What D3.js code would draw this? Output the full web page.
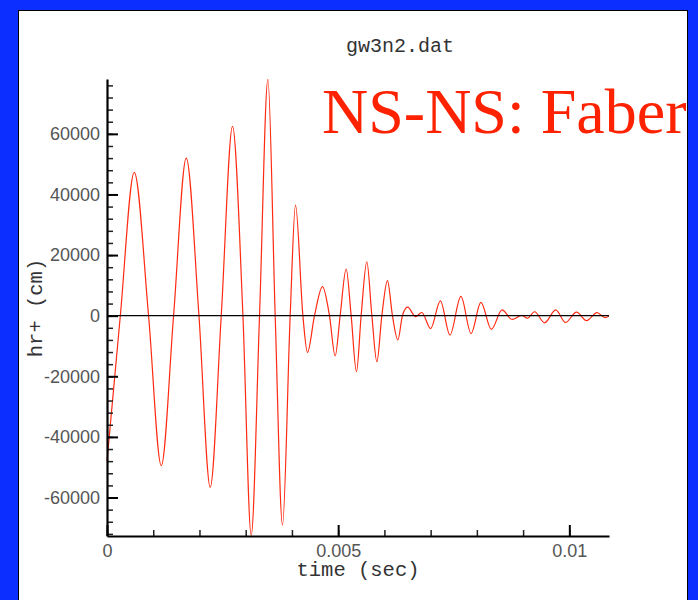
<!DOCTYPE html>
<html>
<head>
<meta charset="utf-8">
<script src="https://cdn.jsdelivr.net/npm/d3@7"></script>
<style>
  html, body { margin: 0; padding: 0; background: #0c2eff; }
  svg { display: block; }
</style>
</head>
<body>
<div id="chart"></div>
<script>
// waveform: extrema and zero crossings
const timeSec = [0, 0.000288, 0.000590, 0.000899, 0.001174, 0.001440, 0.001714, 0.001989,
  0.002233, 0.002471, 0.002715, 0.002940, 0.003119, 0.003299, 0.003480, 0.003638,
  0.003796, 0.003962, 0.004077, 0.004237, 0.004336, 0.004488, 0.004661, 0.004812,
  0.004935, 0.005043, 0.005173, 0.005281, 0.005396, 0.005497, 0.005620, 0.005729,
  0.005837, 0.005945, 0.006066, 0.006174, 0.006291, 0.006390, 0.006502, 0.006675,
  0.006809, 0.007000, 0.007211, 0.007417, 0.007655, 0.007875, 0.008087, 0.008314,
  0.008545, 0.008761, 0.008971, 0.009092, 0.009248, 0.009464, 0.009706, 0.009918,
  0.010156, 0.010372, 0.010599, 0.010772, 0.010858];
const hrPlus = [-48000, 0, 47300, 0, -49500, 0, 52000, 0,
  -56600, 0, 62500, 0, -72500, 0, 78000, 0,
  -69100, 0, 36500, 0, -12100, 0, 9600, 0,
  -13300, 0, 15400, 0, -18500, 0, 17800, 0,
  -15200, 0, 11600, 0, -8000, 0, 2800, -300,
  1050, -4250, 4900, -6400, 6350, -5900, 4400, -4500,
  1900, -1250, 100, -850, 1300, -2350, 1900, -2250,
  1200, -1650, 1000, -650, -100];

const xMajorTicks = [0, 0.005, 0.01];
const xTickLabels = ["0", "0.005", "0.01"];
const yMajorTicks = [-60000, -40000, -20000, 0, 20000, 40000, 60000];

const W = 698, H = 600;
const plotLeft = 107, plotRight = 609, plotTop = 79, plotBottom = 536;

const svg = d3.select('#chart').append('svg')
    .attr('width', W)
    .attr('height', H);

// white panel
svg.append('rect')
    .attr('x', 18.5).attr('y', 10.5)
    .attr('width', 669).attr('height', 600)
    .attr('fill', '#fff')
    .attr('stroke', '#000')
    .attr('stroke-width', 1);

const x = d3.scaleLinear().domain([0, 0.010858]).range([plotLeft, plotRight]);
const y = d3.scaleLinear().domain([-72700, 78100]).range([plotBottom, plotTop]);

const line = d3.line()
    .x((d, i) => x(timeSec[i]))
    .y(d => y(d))
    .curve(d3.curveMonotoneX);

svg.append('path')
    .datum(hrPlus)
    .attr('d', line)
    .attr('fill', 'none')
    .attr('stroke', '#ff2a10')
    .attr('stroke-width', 1.2);

// zero line
svg.append('line')
    .attr('x1', x(0)).attr('x2', plotRight)
    .attr('y1', y(0)).attr('y2', y(0))
    .attr('stroke', '#000')
    .attr('stroke-width', 1.3);

// minor ticks
svg.append('g')
    .attr('transform', `translate(${plotLeft},0)`)
    .call(d3.axisLeft(y).tickValues(d3.range(-72000, 78000, 4000)).tickSize(-6).tickFormat(''))
    .call(g => g.select('.domain').remove())
    .selectAll('line').attr('stroke', '#222').attr('stroke-width', 1.5);

svg.append('g')
    .attr('transform', `translate(0,${plotBottom})`)
    .call(d3.axisBottom(x).tickValues(d3.range(0, 0.0105, 0.001)).tickSize(-6).tickFormat(''))
    .call(g => g.select('.domain').remove())
    .selectAll('line').attr('stroke', '#222').attr('stroke-width', 1.5);

// major axes
const yAxis = svg.append('g')
    .attr('transform', `translate(${plotLeft},0)`)
    .call(d3.axisLeft(y).tickValues(yMajorTicks).tickSizeInner(-11).tickSizeOuter(0)
        .tickPadding(7).tickFormat(d => String(d)));

const xAxis = svg.append('g')
    .attr('transform', `translate(0,${plotBottom})`)
    .call(d3.axisBottom(x).tickValues(xMajorTicks).tickSizeInner(-11).tickSizeOuter(0)
        .tickPadding(8).tickFormat((d, i) => xTickLabels[i]));

[yAxis, xAxis].forEach(g => {
    g.select('.domain').attr('stroke', '#000').attr('stroke-width', 2.2);
    g.selectAll('.tick line').attr('stroke', '#000').attr('stroke-width', 2);
    g.selectAll('.tick text')
        .attr('fill', '#555')
        .style('font-family', '"Liberation Sans", Arial, sans-serif')
        .style('font-size', '18px');
});

// titles
svg.append('text')
    .attr('x', 400).attr('y', 52)
    .attr('text-anchor', 'middle')
    .style('font-family', '"Liberation Mono", monospace')
    .style('font-size', '20px')
    .attr('fill', '#333')
    .text('gw3n2.dat');

svg.append('text')
    .attr('x', (plotLeft + plotRight) / 2).attr('y', 576)
    .attr('text-anchor', 'middle')
    .style('font-family', '"Liberation Mono", monospace')
    .style('font-size', '20.5px')
    .attr('fill', '#333')
    .text('time (sec)');

svg.append('text')
    .attr('transform', 'translate(42,308) rotate(-90)')
    .attr('text-anchor', 'middle')
    .style('font-family', '"Liberation Mono", monospace')
    .style('font-size', '20.5px')
    .attr('fill', '#333')
    .text('hr+ (cm)');

svg.append('text')
    .attr('x', 322).attr('y', 133)
    .style('font-family', '"Liberation Serif", "Times New Roman", serif')
    .style('font-size', '64px')
    .attr('fill', '#ff2200')
    .text('NS-NS: Faber');
</script>
</body>
</html>
